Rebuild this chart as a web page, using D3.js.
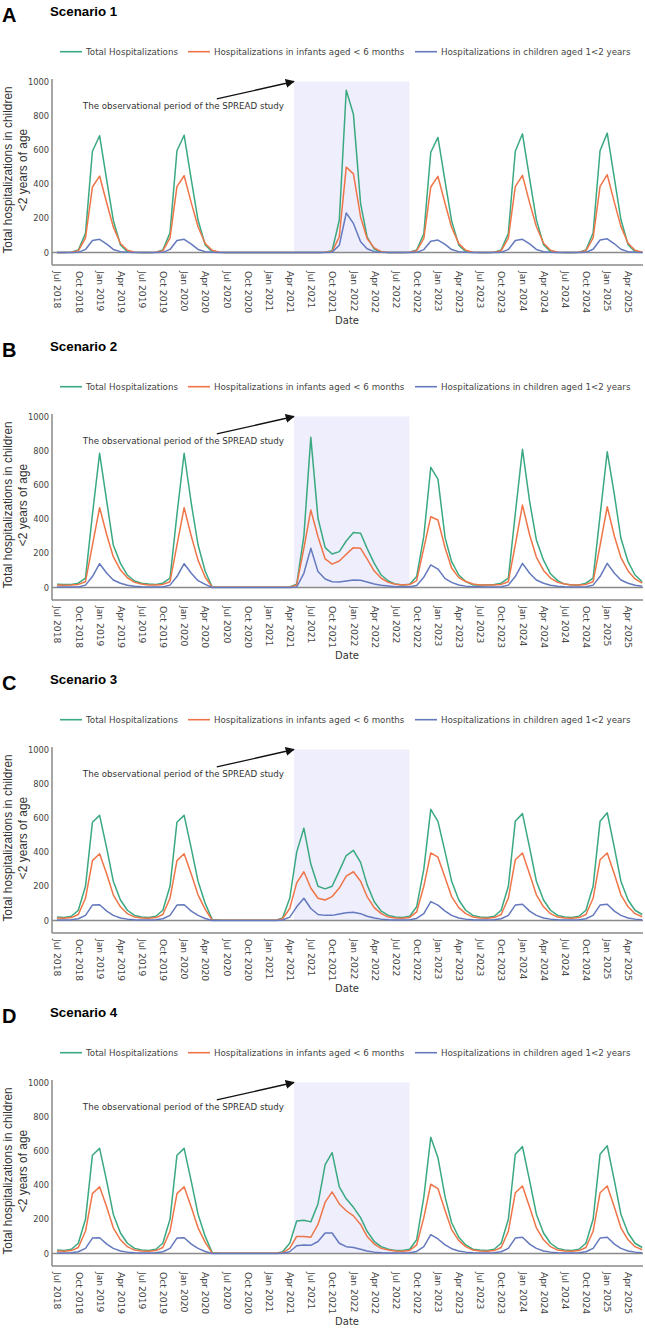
<!DOCTYPE html>
<html><head><meta charset="utf-8">
<script src="https://cdn.jsdelivr.net/npm/d3@7"></script>
<style>body{margin:0;background:#fff}</style>
</head><body>
<svg id="chart" width="645" height="1329"></svg>
<script>
// ---------------- DATA ----------------
const firstMonth = "2018-07-01";
const monthCount = 84;
const periodStart = "2021-04-19";
const periodEnd = "2022-08-31";
const annotationText = "The observational period of the SPREAD study";
const panelLetters = ["A", "B", "C", "D"];
const panelTitles = ["Scenario 1", "Scenario 2", "Scenario 3", "Scenario 4"];
const seriesNames = ["Total Hospitalizations", "Hospitalizations in infants aged < 6 months", "Hospitalizations in children aged 1<2 years"];
const yTicks = [0, 200, 400, 600, 800, 1000];

// Scenario 1
const s1Total = [0,0,2,15,112,592,683,421,189,44,5,1, 0,0,2,15,115,595,686,425,190,44,5,1, 0,0,0,0,0,0,0,0,0,0,0,0, 0,0,2,10,189,949,809,286,92,19,3,0, 0,0,2,15,110,586,673,415,185,43,5,1, 0,0,2,15,113,592,694,430,192,45,5,1, 0,0,2,15,114,595,698,432,193,45,5,1];
const s1Infant = [0,0,1,10,84,383,447,288,150,53,13,2, 0,0,1,10,86,385,449,290,151,53,13,2, 0,0,0,0,0,0,0,0,0,0,0,0, 0,0,1,5,92,499,460,208,82,27,5,0, 0,0,1,10,82,383,445,285,148,52,13,2, 0,0,1,10,84,385,451,290,152,54,13,2, 0,0,1,10,85,387,455,292,153,54,13,2];
const s1Child = [0,0,0,1,18,70,77,49,18,5,1,0, 0,0,0,1,18,70,77,49,18,5,1,0, 0,0,0,0,0,0,0,0,0,0,0,0, 0,0,0,2,42,231,170,63,22,5,1,0, 0,0,0,1,17,66,73,47,17,5,1,0, 0,0,0,1,18,70,77,50,18,5,1,0, 0,0,0,1,19,73,80,51,19,5,1,0];

// Scenario 2
const s2Total = [19,17,18,25,55,428,785,502,248,141,73,38, 25,20,18,25,55,428,785,490,250,95,3,2, 2,2,2,2,2,2,2,2,2,3,19,300, 878,405,233,196,210,272,321,317,229,141,73,38, 20,15,19,64,300,703,634,290,151,73,35,15, 15,15,18,25,55,432,808,502,278,160,80,40, 20,15,15,25,55,420,794,541,288,151,73,34];
const s2Infant = [15,13,14,18,34,248,467,307,180,102,57,30, 20,15,14,18,34,248,467,300,160,60,2,1, 1,1,1,1,1,1,1,1,1,2,15,229, 453,297,167,137,155,194,233,229,167,96,54,30, 19,15,17,40,230,414,395,231,114,58,35,20, 15,15,15,18,34,250,482,307,178,100,55,30, 20,15,15,18,34,245,472,300,175,97,50,25];
const s2Child = [3,3,3,3,14,64,139,83,44,25,13,7, 4,3,3,3,14,64,139,83,40,18,0,0, 0,0,0,0,0,0,0,0,0,0,3,83, 229,93,50,34,32,38,44,42,32,20,13,9, 5,5,5,12,60,132,108,52,30,15,8,5, 4,3,3,4,14,64,141,83,44,25,13,7, 4,3,3,4,14,64,141,83,44,25,13,7];

// Scenario 3
const s3Total = [20,18,25,60,200,575,615,420,230,120,60,30, 20,18,25,60,200,575,615,420,230,100,5,3, 2,2,2,2,2,2,2,2,15,130,400,540, 330,200,185,200,290,380,410,340,210,110,55,30, 20,18,25,80,300,650,580,400,230,120,60,30, 20,18,25,60,200,580,625,425,230,120,60,30, 20,18,25,60,200,580,630,425,230,120,60,35];
const s3Infant = [15,13,17,35,130,350,390,270,150,80,40,20, 15,13,17,35,130,350,390,270,150,65,3,2, 1,1,1,1,1,1,1,1,10,70,220,285, 190,130,120,140,190,260,285,230,140,75,40,20, 15,13,18,50,200,395,370,250,140,75,40,20, 15,13,17,35,130,355,395,270,150,80,40,20, 15,13,17,35,130,355,395,270,150,80,40,22];
const s3Child = [3,3,4,10,30,90,92,55,30,15,8,4, 3,3,4,10,30,90,92,55,30,12,0,0, 0,0,0,0,0,0,0,0,3,20,80,130, 70,35,30,30,38,45,48,40,25,15,8,5, 3,3,4,12,40,110,90,55,30,15,8,4, 3,3,4,10,30,90,95,55,30,15,8,4, 3,3,4,10,30,90,95,55,30,15,8,4];

// Scenario 4
const s4Total = [20,18,25,60,200,575,615,420,230,120,60,30, 20,18,25,60,200,575,615,420,230,100,5,3, 2,2,2,2,2,2,2,2,10,60,190,195, 185,290,520,590,390,320,270,210,130,70,40,25, 18,18,25,80,330,680,560,330,180,95,50,25, 20,18,25,60,200,580,625,425,230,120,60,30, 20,18,25,60,200,580,630,425,230,120,60,35];
const s4Infant = [15,13,17,35,130,350,390,270,150,80,40,20, 15,13,17,35,130,350,390,270,150,65,3,2, 1,1,1,1,1,1,1,1,5,30,100,100, 95,170,300,360,290,250,220,170,100,55,30,20, 15,13,18,50,210,405,380,250,140,75,40,20, 15,13,17,35,130,355,395,270,150,80,40,20, 15,13,17,35,130,355,395,270,150,80,40,22];
const s4Child = [3,3,4,10,30,90,92,55,30,15,8,4, 3,3,4,10,30,90,92,55,30,12,0,0, 0,0,0,0,0,0,0,0,2,10,45,50, 48,70,120,120,60,40,35,25,15,8,5,3, 3,3,4,12,40,110,85,50,28,15,8,4, 3,3,4,10,30,90,95,55,30,15,8,4, 3,3,4,10,30,90,95,55,30,15,8,4];

// ---------------- DRAW ----------------
const colors = ["#3aa981", "#ef7548", "#6479be"];
const parse = d3.timeParse("%Y-%m-%d");
const m0 = parse(firstMonth);
const months = d3.range(monthCount).map(i => d3.timeMonth.offset(m0, i));
const scenarios = [
  [s1Total, s1Infant, s1Child],
  [s2Total, s2Infant, s2Child],
  [s3Total, s3Infant, s3Child],
  [s4Total, s4Infant, s4Child]
];
const panelOffsets = [0, 335, 668, 1001];

const svg = d3.select("#chart");
const x = d3.scaleTime().domain([months[0], months[monthCount - 1]]).range([57, 642.2]);
const tickDates = d3.timeMonth.every(3).range(months[0], d3.timeDay.offset(months[monthCount - 1], 1));
const fmt = d3.timeFormat("%b %Y");

scenarios.forEach((series, p) => {
  const oy = panelOffsets[p];
  const g = svg.append("g").attr("transform", `translate(0,${oy})`);
  const y = d3.scaleLinear().domain([0, 1000]).range([252.5, 81.5]);

  g.append("text").attr("x", 2).attr("y", 22).text(panelLetters[p])
    .attr("font-family", "Liberation Sans, Arial, sans-serif").attr("font-weight", "bold").attr("font-size", 20).attr("fill", "#000");
  g.append("text").attr("x", 50).attr("y", 16).text(panelTitles[p])
    .attr("font-family", "Liberation Sans, Arial, sans-serif").attr("font-weight", "bold").attr("font-size", 13.3).attr("fill", "#000");

  // legend
  const legX = [60, 188, 415];
  seriesNames.forEach((name, i) => {
    g.append("line").attr("x1", legX[i]).attr("x2", legX[i] + 22).attr("y1", 51.7).attr("y2", 51.7)
      .attr("stroke", colors[i]).attr("stroke-width", 1.6);
    g.append("text").attr("x", legX[i] + 26).attr("y", 54.8).text(name)
      .attr("font-family", "DejaVu Sans, sans-serif").attr("font-size", 8.7).attr("fill", "#444");
  });

  // shaded period
  g.append("rect").attr("x", x(parse(periodStart))).attr("y", y(1000))
    .attr("width", x(parse(periodEnd)) - x(parse(periodStart))).attr("height", y(0) - y(1000))
    .attr("fill", "#eeeefc");

  // axes lines
  g.append("line").attr("x1", 52).attr("x2", 52).attr("y1", 79).attr("y2", 265).attr("stroke", "#888").attr("stroke-width", 1.5);
  g.append("line").attr("x1", 52).attr("x2", 643).attr("y1", 265).attr("y2", 265).attr("stroke", "#888").attr("stroke-width", 1.5);
  g.append("line").attr("x1", 52).attr("x2", 643).attr("y1", y(0)).attr("y2", y(0)).attr("stroke", "#8a8a8a").attr("stroke-width", 1.5);

  // y ticks
  const yAxis = g.append("g").attr("transform", "translate(49,0)")
    .call(d3.axisLeft(y).tickValues(yTicks).tickFormat(d3.format("d")).tickSize(0).tickPadding(0));
  yAxis.select(".domain").remove();
  yAxis.selectAll("text").attr("font-family", "DejaVu Sans, sans-serif").attr("font-size", 8.3).attr("fill", "#444");

  // x ticks
  const xAxis = g.append("g").attr("transform", "translate(0,270)")
    .call(d3.axisBottom(x).tickValues(tickDates).tickFormat(fmt).tickSize(0).tickPadding(0));
  xAxis.select(".domain").remove();
  xAxis.selectAll("text")
    .attr("font-family", "DejaVu Sans, sans-serif").attr("font-size", 9.2).attr("fill", "#444")
    .attr("transform", "rotate(90)").attr("text-anchor", "start")
    .attr("x", 1).attr("y", 0).attr("dy", "0.35em");

  g.append("text").attr("x", 347).attr("y", 324).attr("text-anchor", "middle").text("Date")
    .attr("font-family", "DejaVu Sans, sans-serif").attr("font-size", 10).attr("fill", "#333");

  // y title
  const yt = g.append("text").attr("transform", "translate(12,170) rotate(-90)").attr("text-anchor", "middle")
    .attr("font-family", "Liberation Sans, Arial, sans-serif").attr("font-size", 11.9).attr("fill", "#333");
  yt.append("tspan").attr("x", 0).attr("y", 0).text("Total hospitalizations in children");
  yt.append("tspan").attr("x", 0).attr("y", 15).text("<2 years of age");

  // lines
  const line = d3.line().x((d, i) => x(months[i])).y(d => y(d));
  series.forEach((vals, i) => {
    g.append("path").datum(vals).attr("d", line).attr("fill", "none")
      .attr("stroke", colors[i]).attr("stroke-width", 1.5).attr("stroke-linejoin", "round");
  });

  // annotation
  const defsId = "arrow" + p;
  const defs = g.append("defs");
  defs.append("marker").attr("id", defsId).attr("viewBox", "0 0 10 10").attr("refX", 9).attr("refY", 5)
    .attr("markerWidth", 7).attr("markerHeight", 7).attr("orient", "auto")
    .append("path").attr("d", "M0,0 L10,5 L0,10 z").attr("fill", "#111");
  g.append("line").attr("x1", x(parse("2020-05-21"))).attr("y1", y(898))
    .attr("x2", x(parse(periodStart))).attr("y2", y(1000))
    .attr("stroke", "#111").attr("stroke-width", 1.3).attr("marker-end", `url(#${defsId})`);
  g.append("text").attr("x", x(parse("2019-12-29"))).attr("y", y(838)).attr("text-anchor", "middle")
    .text(annotationText).attr("font-family", "DejaVu Sans, sans-serif").attr("font-size", 8.7).attr("fill", "#333");
});
</script>
</body></html>
